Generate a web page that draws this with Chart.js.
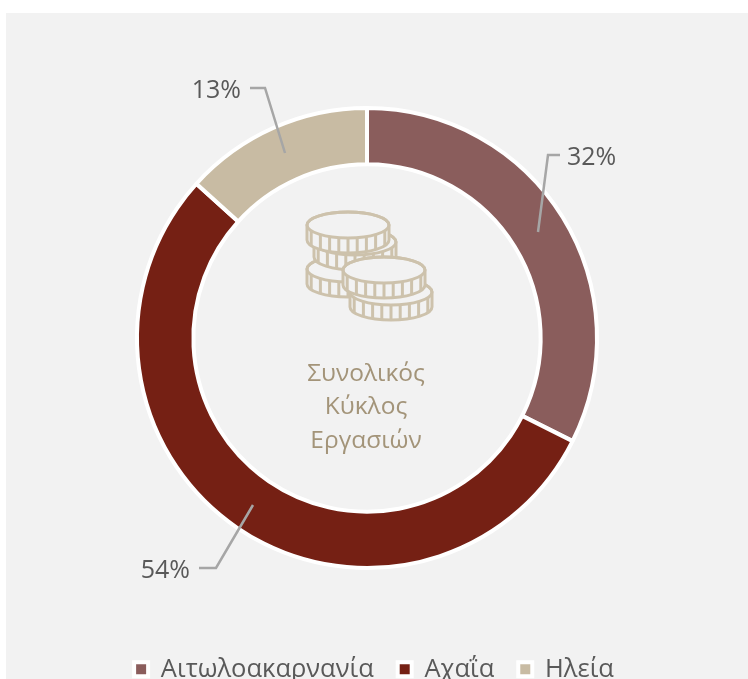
<!DOCTYPE html>
<html>
<head>
<meta charset="utf-8">
<style>
  html, body { margin: 0; padding: 0; background: #fff; overflow: hidden; }
  #panel { position: absolute; left: 6px; top: 13px; right: 0; bottom: 0; background: #f2f2f2; }
  #wrap { position: absolute; left: 0; top: 0; width: 748px; height: 679px; }
</style>
<script src="https://cdn.jsdelivr.net/npm/chart.js@4/dist/chart.umd.min.js"></script>
</head>
<body>
<div id="panel"></div>
<div id="wrap"><canvas id="chart"></canvas></div>
<script>
'use strict';
const regions = ['Αιτωλοακαρνανία', 'Αχαΐα', 'Ηλεία'];
const shares  = [32.4, 54.3, 13.3];
const colors  = ['#8a5d5c', '#752014', '#c8bba3'];
const centerLines = ['Συνολικός', 'Κύκλος', 'Εργασιών'];

const FONT = '"Open Sans", sans-serif';

// leader line + label for each slice, in canvas px
const leaders = [
  { pts: [[538, 232], [548, 155], [560, 155]], x: 567, y: 158, align: 'left' },
  { pts: [[253, 505], [216, 568], [199, 568]], x: 190, y: 571, align: 'right' },
  { pts: [[285, 153], [265, 88], [250, 88]],   x: 241, y: 91,  align: 'right' },
];

// back to front
const coins = [[348, 269], [355, 242], [348, 225], [391, 292], [384, 270]];

function drawCoin(ctx, cx, cy) {
  const rx = 41, ry = 13, h = 15;
  ctx.beginPath();
  ctx.ellipse(cx, cy, rx, ry, 0, Math.PI, Math.PI * 2);
  ctx.lineTo(cx + rx, cy + h);
  ctx.ellipse(cx, cy + h, rx, ry, 0, 0, Math.PI);
  ctx.closePath();
  ctx.fillStyle = '#f2f2f2';
  ctx.fill();
  ctx.stroke();
  ctx.beginPath();
  ctx.ellipse(cx, cy, rx, ry, 0, 0, Math.PI * 2);
  ctx.stroke();
  for (let i = -4; i <= 4; i++) {
    const x = cx + i * 9.2;
    const k = Math.sqrt(1 - (x - cx) * (x - cx) / (rx * rx));
    ctx.beginPath();
    ctx.moveTo(x, cy + ry * k);
    ctx.lineTo(x, cy + h + ry * k);
    ctx.stroke();
  }
}

const decorations = {
  id: 'decorations',
  afterLayout(chart) {
    // ring sits left of the legend's centre, so pin it
    chart.chartArea = { left: 135, right: 599, top: 106, bottom: 570, width: 464, height: 464 };
  },
  afterDraw(chart) {
    const ctx = chart.ctx;
    ctx.save();

    ctx.strokeStyle = '#a6a6a6';
    ctx.lineWidth = 2.5;
    ctx.font = '25px ' + FONT;
    ctx.textBaseline = 'middle';
    leaders.forEach((l, i) => {
      ctx.beginPath();
      l.pts.forEach((p, j) => j ? ctx.lineTo(p[0], p[1]) : ctx.moveTo(p[0], p[1]));
      ctx.stroke();
      ctx.fillStyle = '#595959';
      ctx.textAlign = l.align;
      ctx.fillText(Math.round(shares[i]) + '%', l.x, l.y);
    });

    ctx.strokeStyle = '#cdc2ac';
    ctx.lineWidth = 3;
    coins.forEach(c => drawCoin(ctx, c[0], c[1]));

    ctx.fillStyle = '#a39479';
    ctx.font = '24.5px ' + FONT;
    ctx.textAlign = 'center';
    centerLines.forEach((t, i) => ctx.fillText(t, 366, 374 + i * 33.5));

    ctx.restore();
  },
};

new Chart(document.getElementById('chart'), {
  type: 'doughnut',
  data: {
    labels: regions,
    datasets: [{
      data: shares,
      backgroundColor: colors,
      borderColor: '#ffffff',
      borderWidth: 4,
    }],
  },
  options: {
    responsive: true,
    maintainAspectRatio: false,
    animation: false,
    cutout: '75.5%',
    layout: { padding: { bottom: -13 } },
    plugins: {
      tooltip: { enabled: false },
      legend: {
        position: 'bottom',
        labels: {
          color: '#595959',
          font: { family: FONT, size: 25.5 },
          boxWidth: 14,
          boxHeight: 14,
          padding: 24,
        },
      },
    },
  },
  plugins: [decorations],
});
</script>
</body>
</html>
